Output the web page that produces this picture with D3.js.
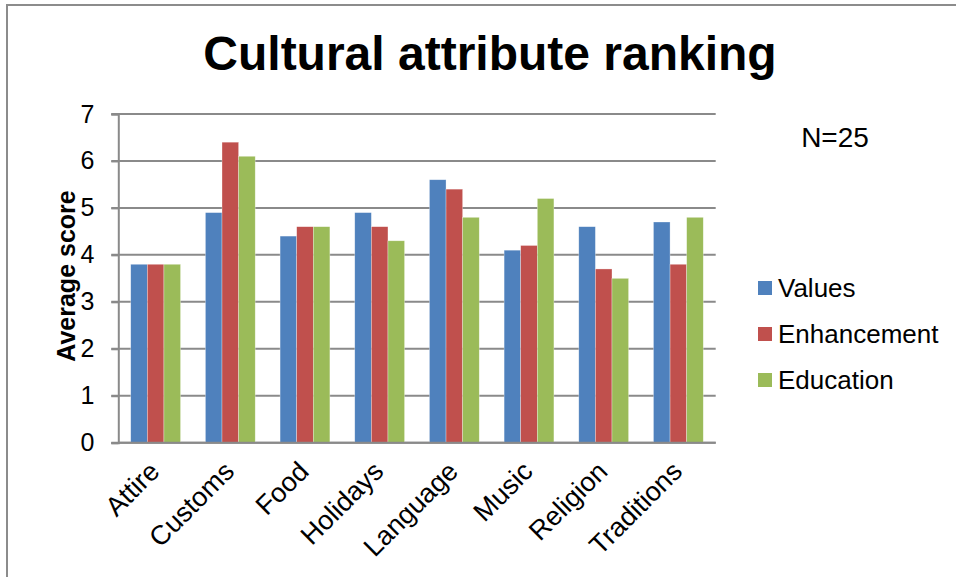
<!DOCTYPE html>
<html>
<head>
<meta charset="utf-8">
<script src="https://cdnjs.cloudflare.com/ajax/libs/d3/7.8.5/d3.min.js"></script>
<style>
  body { margin: 0; background: #fff; }
  text { font-family: "Liberation Sans", Arial, sans-serif; fill: #000; }
</style>
</head>
<body>
<div id="chart"></div>
<script>
const categories = ["Attire", "Customs", "Food", "Holidays", "Language", "Music", "Religion", "Traditions"];
const seriesNames = ["Values", "Enhancement", "Education"];
const valuesScores = [3.8, 4.9, 4.4, 4.9, 5.6, 4.1, 4.6, 4.7];
const enhancementScores = [3.8, 6.4, 4.6, 4.6, 5.4, 4.2, 3.7, 3.8];
const educationScores = [3.8, 6.1, 4.6, 4.3, 4.8, 5.2, 3.5, 4.8];
const yTicks = [0, 1, 2, 3, 4, 5, 6, 7];
const colors = ["#4F81BD", "#C0504D", "#9BBB59"];

const seriesData = [valuesScores, enhancementScores, educationScores];
const data = categories.map((c, i) => ({
    cat: c,
    vals: seriesNames.map((s, j) => ({ series: s, idx: j, value: seriesData[j][i] }))
}));

const W = 956, H = 577;
const plot = { left: 118.3, right: 715.7, top: 114, bottom: 442.7 };

const svg = d3.select("#chart").append("svg")
    .attr("width", W)
    .attr("height", H);

// outer chart border (runs off the bottom/right of the picture)
svg.append("rect")
    .attr("x", 7).attr("y", 5)
    .attr("width", 1200).attr("height", 1200)
    .attr("fill", "none")
    .attr("stroke", "#8c8c8c")
    .attr("stroke-width", 2);

svg.append("text")
    .attr("x", 490).attr("y", 70)
    .attr("text-anchor", "middle")
    .attr("font-size", 48)
    .attr("font-weight", "bold")
    .text("Cultural attribute ranking");

const x = d3.scaleBand()
    .domain(categories)
    .range([plot.left, plot.right])
    .paddingInner(0.333)
    .paddingOuter(0.1665);

const xs = d3.scaleBand()
    .domain(seriesNames)
    .range([0, x.bandwidth()]);

const y = d3.scaleLinear()
    .domain([0, 7])
    .range([plot.bottom, plot.top]);

// gridlines
svg.append("g")
    .selectAll("line")
    .data(yTicks)
    .enter()
    .append("line")
    .attr("x1", plot.left - 7)
    .attr("x2", plot.right)
    .attr("y1", d => y(d))
    .attr("y2", d => y(d))
    .attr("stroke", "#8a8a8a")
    .attr("stroke-width", 2);

// bars
const groups = svg.append("g")
    .selectAll("g")
    .data(data)
    .enter()
    .append("g")
    .attr("transform", d => `translate(${x(d.cat)},0)`);

groups.selectAll("rect")
    .data(d => d.vals)
    .enter()
    .append("rect")
    .attr("x", d => xs(d.series))
    .attr("y", d => y(d.value))
    .attr("width", xs.bandwidth())
    .attr("height", d => y(0) - y(d.value))
    .attr("fill", d => colors[d.idx])
    .attr("stroke", "#fff")
    .attr("stroke-opacity", 0.5)
    .attr("stroke-width", 0.6);

// y axis
const yAxis = d3.axisLeft(y)
    .tickValues(yTicks)
    .tickFormat(d3.format("d"))
    .tickSize(7)
    .tickPadding(17);
const yg = svg.append("g")
    .attr("transform", `translate(${plot.left},0)`)
    .call(yAxis);
yg.select(".domain").attr("stroke", "#8a8a8a").attr("stroke-width", 2);
yg.selectAll(".tick line").attr("stroke", "#8a8a8a").attr("stroke-width", 2);
yg.selectAll(".tick text")
    .attr("font-size", 25)
    .attr("font-family", "Liberation Sans, Arial, sans-serif")
    .attr("fill", "#000");

// x axis baseline
svg.append("line")
    .attr("x1", plot.left).attr("x2", plot.right)
    .attr("y1", y(0)).attr("y2", y(0))
    .attr("stroke", "#8a8a8a")
    .attr("stroke-width", 2);

// category labels
svg.append("g")
    .selectAll("text")
    .data(categories)
    .enter()
    .append("text")
    .attr("transform", d => `translate(${x(d) + x.bandwidth() / 2 - 8},${plot.bottom + 17}) rotate(-45)`)
    .attr("text-anchor", "end")
    .attr("dy", "0.7em")
    .attr("font-size", 27)
    .text(d => d);

// y axis title
svg.append("text")
    .attr("transform", `translate(75,276) rotate(-90)`)
    .attr("text-anchor", "middle")
    .attr("font-size", 25)
    .attr("font-weight", "bold")
    .text("Average score");

// N note
svg.append("text")
    .attr("x", 835).attr("y", 147)
    .attr("text-anchor", "middle")
    .attr("font-size", 28)
    .text("N=25");

// legend
const legend = svg.append("g")
    .selectAll("g")
    .data(seriesNames)
    .enter()
    .append("g")
    .attr("transform", (d, i) => `translate(758,${288 + i * 46})`);

legend.append("rect")
    .attr("x", 0).attr("y", -7)
    .attr("width", 14).attr("height", 14)
    .attr("fill", (d, i) => colors[i]);

legend.append("text")
    .attr("x", 20).attr("y", 0)
    .attr("dy", "0.36em")
    .attr("font-size", 26)
    .text(d => d);
</script>
</body>
</html>
